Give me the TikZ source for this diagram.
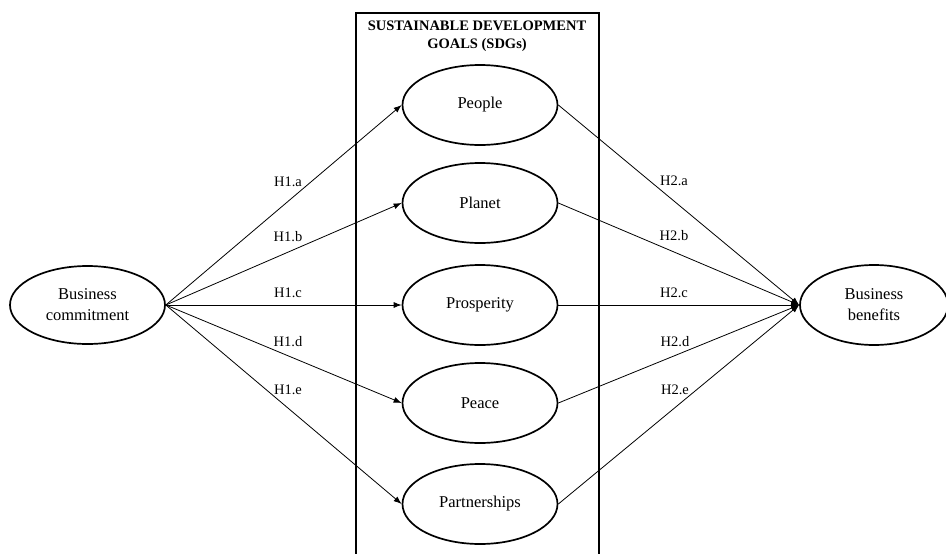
\documentclass[tikz,border=0pt]{standalone}
\usepackage{fontspec}
\setmainfont{Liberation Serif}
\usetikzlibrary{arrows.meta,shapes.geometric}
\begin{document}
\begin{tikzpicture}[x=1pt,y=-1pt,
  ell/.style={ellipse,draw,line width=1.7pt,minimum width=155pt,minimum height=80pt,inner sep=0pt,
    font=\fontsize{16.5}{21}\selectfont,align=center},
  arr/.style={-{Latex[length=8pt,width=6pt]},line width=0.8pt},
  lbl/.style={font=\fontsize{14.5}{17}\selectfont,inner sep=0pt}]
\useasboundingbox (0,0) rectangle (946,554);
\node[draw,line width=1.7pt,minimum width=243pt,minimum height=548pt,anchor=north west,inner sep=0pt] (sdg) at (355,12) {};
\node[font=\bfseries\fontsize{14.5}{18}\selectfont,align=center,inner sep=0pt] (title) at (477,36) {SUSTAINABLE DEVELOPMENT\\GOALS (SDGs)};
\node[ell] (people) at (480,105) {People};
\node[ell] (planet) at (480,203) {Planet};
\node[ell] (prosp) at (480,305) {Prosperity};
\node[ell] (peace) at (480,403) {Peace};
\node[ell] (partner) at (480,504) {Partnerships};
\node[ell,minimum height=78pt] (bc) at (87.5,305) {Business\\commitment};
\node[ell,minimum width=148pt] (bb) at (874,305) {Business\\benefits};
\foreach \t in {people,planet,prosp,peace,partner}{
  \draw[arr] (bc.east) -- (\t.west);
  \draw[arr] (\t.east) -- (bb.west);
}
\node[lbl] (h1a) at (288,182) {H1.a};
\node[lbl] (h1b) at (288,237) {H1.b};
\node[lbl] (h1c) at (288,293) {H1.c};
\node[lbl] (h1d) at (288,342) {H1.d};
\node[lbl] (h1e) at (288,390) {H1.e};
\node[lbl] (h2a) at (674,181) {H2.a};
\node[lbl] (h2b) at (674,236) {H2.b};
\node[lbl] (h2c) at (674,293) {H2.c};
\node[lbl] (h2d) at (675,342) {H2.d};
\node[lbl] (h2e) at (675,390) {H2.e};
\end{tikzpicture}
\end{document}
